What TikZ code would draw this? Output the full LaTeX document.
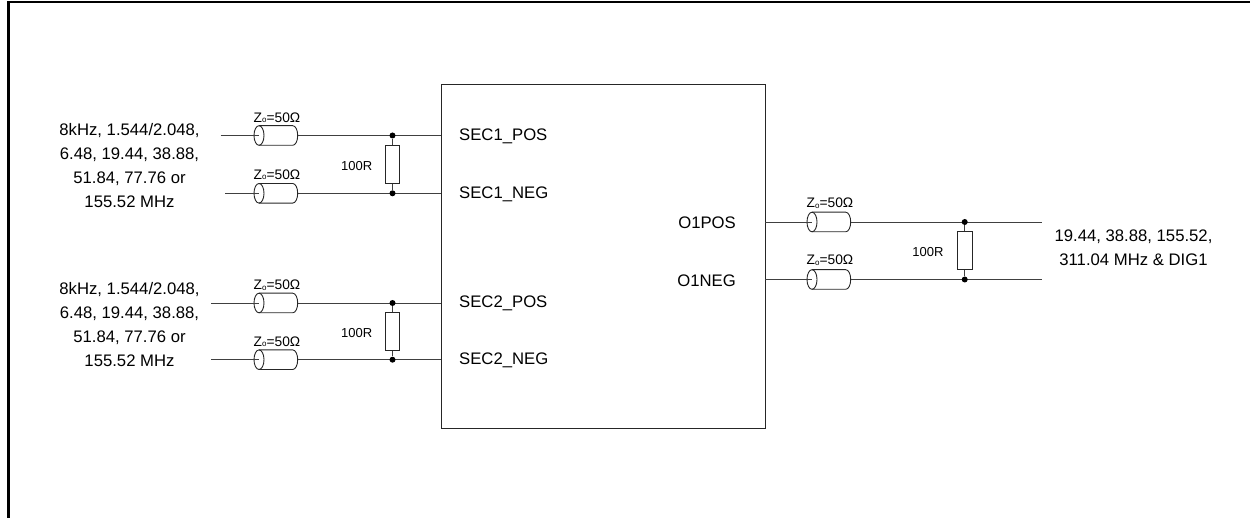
\documentclass[tikz,border=0pt]{standalone}
\usepackage{fontspec}
\setmainfont{Liberation Sans}
\tikzset{
  x=1pt,y=-1pt,
  wire/.style={line width=0.9pt,draw=black!75},
  lbl/.style={inner sep=0pt,font=\fontsize{16.7}{24}\selectfont,align=center,text=black},
  pinl/.style={lbl,anchor=west},
  pinr/.style={lbl,anchor=east},
  small/.style={inner sep=0pt,font=\fontsize{13}{15}\selectfont,text=black},
  zsmall/.style={inner sep=0pt,font=\fontsize{13.8}{15}\selectfont,text=black},
  res/.style={draw=black!85,line width=0.9pt,fill=white,minimum width=14.5pt,minimum height=38.5pt,inner sep=0pt},
  jdot/.style={circle,fill=black,inner sep=0pt,minimum size=6pt},
  coax/.pic={
    \draw[line width=0.9pt,draw=black!85] (0,0) ellipse [x radius=5,y radius=9.8];
    \draw[line width=0.9pt,draw=black!85] (0,-9.8) -- (33.7,-9.8) .. controls (36.5,-9.8) and (38.7,-5.4) .. (38.7,0) .. controls (38.7,5.4) and (36.5,9.8) .. (33.7,9.8) -- (0,9.8);
    \coordinate (-in) at (0,0);
    \coordinate (-out) at (38.7,0);
  }
}
\begin{document}
\begin{tikzpicture}
\useasboundingbox (0,0) rectangle (1250,518);
\draw[line width=2.4pt,black] (8.6,518) -- (8.6,2.1) -- (1250,2.1);

\node[draw=black!85,line width=0.9pt,minimum width=324pt,minimum height=344pt,inner sep=0pt] (main) at (603,256.3) {};

\coordinate (s1) at (220.7,135.5);
\coordinate (s2) at (225,193.3);
\coordinate (s3) at (211,303);
\coordinate (s4) at (211,359.7);
\pic (c1) at (259,135.5) {coax};
\pic (c2) at (259,193.3) {coax};
\pic (c3) at (259,303) {coax};
\pic (c4) at (259,359.7) {coax};
\foreach \a/\b in {s1/c1,s2/c2,s3/c3,s4/c4}{
  \draw[wire] (\a) -- (\b-in);
  \draw[wire] (\b-out) -- (\b-out -| main.west);
}
\node[jdot] (d1) at (392.5,135.5) {};
\node[jdot] (d2) at (392.5,193.3) {};
\node[jdot] (d3) at (392.5,303) {};
\node[jdot] (d4) at (392.5,359.7) {};
\node[res] (r1) at (392.5,164.4) {};
\node[res] (r2) at (392.5,331.5) {};
\draw[wire] (d1) -- (r1);
\draw[wire] (r1) -- (d2);
\draw[wire] (d3) -- (r2);
\draw[wire] (r2) -- (d4);

\coordinate (e1) at (1041.5,222);
\coordinate (e2) at (1041.5,279.5);
\pic (c5) at (812,222) {coax};
\pic (c6) at (812,279.5) {coax};
\draw[wire] (c5-in -| main.east) -- (c5-in);
\draw[wire] (c6-in -| main.east) -- (c6-in);
\draw[wire] (c5-out) -- (e1);
\draw[wire] (c6-out) -- (e2);
\node[jdot] (d5) at (964.7,222) {};
\node[jdot] (d6) at (964.7,279.5) {};
\node[res] (r3) at (964.7,250.7) {};
\draw[wire] (d5) -- (r3);
\draw[wire] (r3) -- (d6);

\newcommand{\zlabel}{Z\raisebox{-0.5pt}{\fontsize{8}{8}\selectfont o}=50Ω}
\node[zsmall] (z1) at (277,117.7) {\zlabel};
\node[zsmall] (z2) at (277,174.7) {\zlabel};
\node[zsmall] (z3) at (277,285) {\zlabel};
\node[zsmall] (z4) at (277,341.7) {\zlabel};
\node[zsmall] (z5) at (830,203) {\zlabel};
\node[zsmall] (z6) at (830,260) {\zlabel};

\node[small] (v1) at (356.7,165.7) {100R};
\node[small] (v2) at (356.7,333) {100R};
\node[small] (v3) at (928,251.7) {100R};

\node[pinl] (p1) at (459,136) {SEC1\_POS};
\node[pinl] (p2) at (459,194) {SEC1\_NEG};
\node[pinl] (p3) at (459,303) {SEC2\_POS};
\node[pinl] (p4) at (459,360.5) {SEC2\_NEG};
\node[pinr] (p5) at (736,223) {O1POS};
\node[pinr] (p6) at (736,281) {O1NEG};

\node[lbl] (t1) at (129.5,166) {8kHz, 1.544/2.048,\\6.48, 19.44, 38.88,\\51.84, 77.76 or\\155.52 MHz};
\node[lbl] (t2) at (129.5,325) {8kHz, 1.544/2.048,\\6.48, 19.44, 38.88,\\51.84, 77.76 or\\155.52 MHz};
\node[lbl] (t3) at (1133.5,248) {19.44, 38.88, 155.52,\\311.04 MHz \& DIG1};
\end{tikzpicture}
\end{document}
